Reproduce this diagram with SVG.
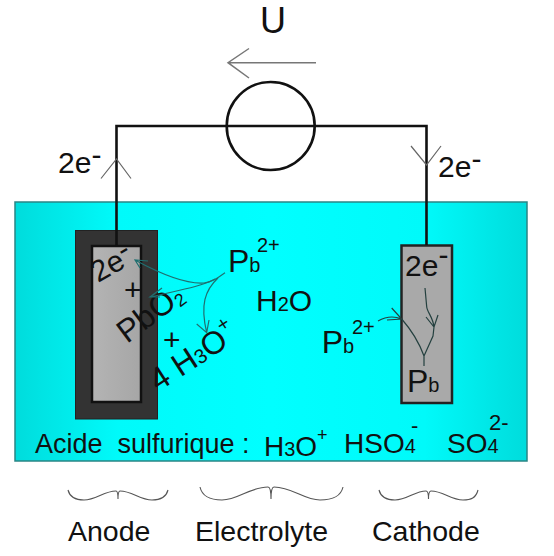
<svg xmlns="http://www.w3.org/2000/svg" width="554" height="556" viewBox="0 0 554 556">
<style>
text{font-family:"Liberation Sans",Arial,sans-serif;fill:#111}
.l{font-size:30px}
.p{font-size:32px}
.s{font-size:20px}
.wire{fill:none;stroke:#111;stroke-width:2.6}
.thin{fill:none;stroke:#666;stroke-width:1.2}
.gr{fill:none;stroke:#777;stroke-width:1.5}
.teal{fill:none;stroke:#1f6f70;stroke-width:1.2}
.dk{fill:none;stroke:#24403f;stroke-width:1.2}
.br{fill:none;stroke:#555;stroke-width:1.1}
</style>
<defs>
<linearGradient id="liq" x1="0" y1="0" x2="1" y2="0">
<stop offset="0" stop-color="#00dcdc"/><stop offset="0.2" stop-color="#00fafa"/><stop offset="0.5" stop-color="#00ffff"/><stop offset="0.8" stop-color="#00fafa"/><stop offset="1" stop-color="#00dcdc"/>
</linearGradient>
<linearGradient id="pl" x1="0" y1="0" x2="1" y2="0">
<stop offset="0" stop-color="#b4b4b4"/><stop offset="1" stop-color="#a6a6a6"/>
</linearGradient>
</defs>
<rect width="554" height="556" fill="#fff"/>
<g id="electrolyte"><rect x="15" y="202" width="512" height="259" fill="url(#liq)" stroke="#2a8585" stroke-width="1.5"/></g>
<g id="source">
<circle cx="270.700" cy="126" r="44" class="wire"/>
<text x="260" y="33" style="font-size:36px">U</text>
</g>
<g id="anode">
<rect x="75.500" y="230.500" width="82" height="188.500" fill="#333" stroke="#222"/>
<rect x="92" y="246" width="49" height="156" fill="url(#pl)" stroke="#111" stroke-width="2.500"/>
<text class="l" transform="translate(98 283) rotate(-30)">2e<tspan dy="-7">-</tspan></text>
<text class="l" x="124" y="300">+</text>
<text class="p" transform="translate(127 344) rotate(-37)">PbO<tspan style="font-size:18px" dy="3">2</tspan></text>
</g>
<g id="cathode">
<rect x="401.500" y="245.500" width="50.500" height="157.500" fill="#a9a9a9" stroke="#222" stroke-width="2.500"/>
<text class="l" x="405" y="276">2e<tspan dy="-11">-</tspan></text>
<text class="p" x="407" y="391.700">P<tspan class="s">b</tspan></text>
</g>
<g id="connectors">
<path class="wire" d="M116.500 246V126H426.500V245"/>
<path class="gr" d="M316 62.700H228M249 48.500L228 62.700L249 78"/>
<path class="thin" d="M101 178.500L116.500 159L131 178.500M411 146L426.500 165L441 146"/>
<path class="teal" d="M225 272.700C216 279 212 282 204 283C190 284 170 279 135 260M148 261L135 260L140 268"/>
<path class="teal" d="M215 279C200 287 180 290 150 297M162 288L150 297L160 297"/>
<path class="teal" d="M218 278C205 290 200 305 206.700 332.700M196.700 324L206.700 332.700L209 320"/>
<path class="dk" d="M378 321C385 317 392 315 401.700 319M391.700 308L401.700 319L387 320"/>
<path class="dk" d="M424 366V356C420 345 414 333 401.700 319M424 356L433 336L434 327C433 317 427 312 426.700 306.700L425 288M426 317L434 327L438 315"/>
</g>
<g id="labels">
<text class="l" x="58" y="172.700">2e<tspan dy="-8">-</tspan></text>
<text class="l" x="438" y="176.700">2e<tspan dy="-8">-</tspan></text>
<text class="p" x="228" y="272">P<tspan class="s">b</tspan></text>
<text class="s" x="257" y="252">2+</text>
<text class="l" x="163" y="350">+</text>
<text class="p" transform="translate(158 392) rotate(-33)">4 H<tspan class="s">3</tspan>O<tspan class="s" dy="-15">+</tspan></text>
<text class="l" x="256" y="311">H<tspan class="s">2</tspan>O</text>
<text class="p" x="321.700" y="352.700">P<tspan class="s">b</tspan></text>
<text class="s" x="352" y="334">2+</text>
<text x="35" y="452.500" style="font-size:27px" xml:space="preserve">Acide  sulfurique :</text>
<text x="264" y="456" style="font-size:28px">H<tspan class="s">3</tspan>O</text>
<text x="317" y="441" style="font-size:18px">+</text>
<text x="344" y="452.500" style="font-size:28px">HSO<tspan class="s">4</tspan></text>
<text x="411" y="433" style="font-size:22px">-</text>
<text x="447" y="452.500" style="font-size:28px">SO<tspan class="s">4</tspan></text>
<text x="489" y="430" style="font-size:22px">2-</text>
<text x="68" y="541" style="font-size:28.500px">Anode</text>
<text x="195" y="541" style="font-size:28.500px">Electrolyte</text>
<text x="372" y="541" style="font-size:28.500px">Cathode</text>
</g>
<g id="braces">
<path class="br" d="M68 490C70 498 76 500 84 500C96 500 104 491 116 491Q118 491 118 499Q118 491 120 491C132 491 140 500 152 500C160 500 166 498 168 490"/>
<path class="br" d="M200 487C202 496 210 500 222 500C238 500 250 487 268 487Q271 487 271 499Q271 487 274 487C292 487 304 500 320 500C332 500 341 496 343 487"/>
<path class="br" d="M379 490C381 498 387 500 395 500C407 500 415 491 426 491Q428.500 491 428.500 499Q428.500 491 431 491C443 491 451 500 463 500C471 500 476 498 478 490"/>
</g>
</svg>
